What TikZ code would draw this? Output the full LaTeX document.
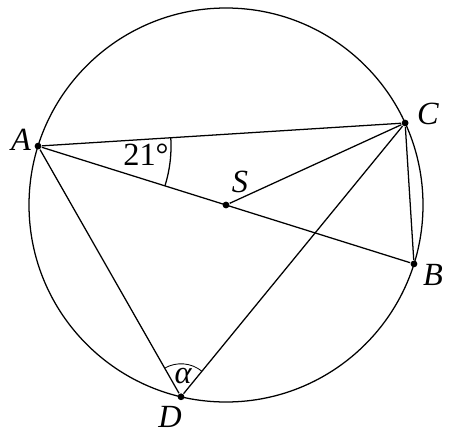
\documentclass[tikz,border=0pt]{standalone}
\usepackage{fontspec}
\setmainfont{Liberation Serif}
\usepackage{tikz}
\usetikzlibrary{positioning}

\begin{document}
\begin{tikzpicture}[x=0.025cm, y=0.025cm, line width=0.9pt,
	pt/.style={circle, fill=black, inner sep=0, minimum size=1.7mm},
	lbl/.style={font=\fontsize{23}{27}\selectfont\itshape, inner sep=0}]
	\useasboundingbox (0,0) rectangle (452,-440);
	\node[pt] (S) at (226,-205) {};
	\draw (S.center) circle (197);
	\foreach \p/\a in {A/162.6,B/-17.4,C/24.6,D/256.8} {
		\node[pt] (\p) at ([shift={(\a:197)}]S.center) {};
	};
	\draw (A) -- (C) -- (D) -- (A);
	\draw (A) -- (B) -- (C) -- (S);
	% angles
	\draw ([shift={(-17.4:133)}]A.center) arc (-17.4:3.6:133);
	\draw[line width=0.6pt] ([shift={(50.7:33)}]D.center) arc (50.7:119.7:33);
	\node[lbl] (lA) at (21,-140) {A};
	\node[lbl] (lB) at (433,-275) {B};
	\node[lbl] (lC) at (428,-114) {C};
	\node[lbl] (lD) at (170,-417) {D};
	\node[lbl] (lS) at (240,-182) {S};
	\node[lbl] (l21) at (146,-155) {\upshape 21°};
	\node[lbl] (lal) at (183,-376) {α};
\end{tikzpicture}
\end{document}
